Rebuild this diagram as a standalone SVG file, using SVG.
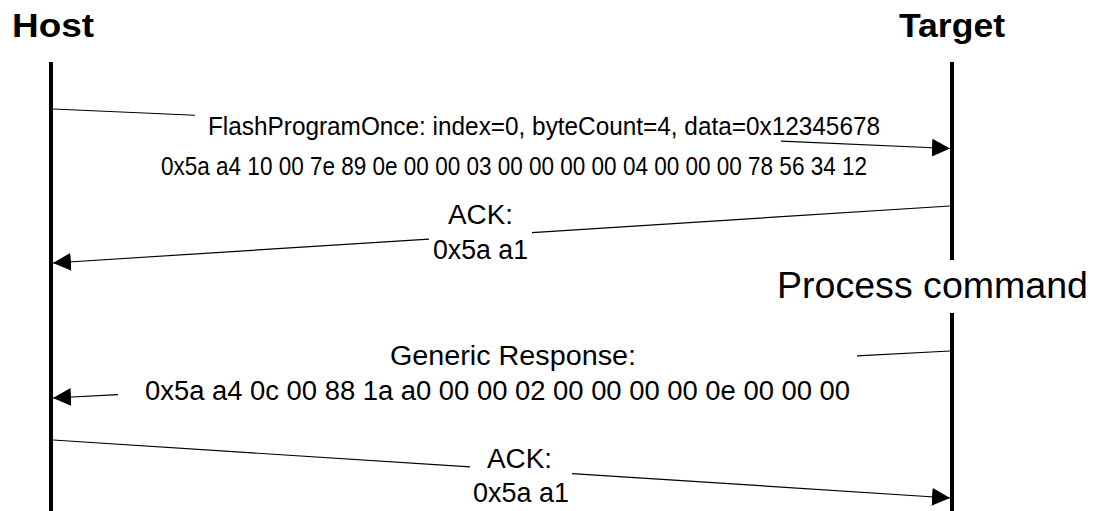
<svg xmlns="http://www.w3.org/2000/svg" width="1093" height="511" viewBox="0 0 1093 511">
  <style>
    .life { stroke: #000; stroke-width: 4; fill: none; }
    .msg { stroke: #000; stroke-width: 1.2; fill: none; }
    .title { font-family: "Liberation Sans", Arial, sans-serif; font-weight: bold; font-size: 34px; fill: #000; }
    .lbl { font-family: "Liberation Sans", Arial, sans-serif; font-size: 27px; fill: #000; }
    .lbl26 { font-family: "Liberation Sans", Arial, sans-serif; font-size: 26px; fill: #000; }
    .big { font-family: "Liberation Sans", Arial, sans-serif; font-size: 36px; fill: #000; }
  </style>
  <defs>
    <marker id="arrow" markerUnits="userSpaceOnUse" markerWidth="18" markerHeight="18" refX="18" refY="9" orient="auto">
      <path d="M0,0 L18,9 L0,18 Z" fill="#000"/>
    </marker>
  </defs>
  <rect width="1093" height="511" fill="#fff"/>

  <g id="host">
    <text class="title" x="53" y="37" text-anchor="middle" textLength="82" lengthAdjust="spacingAndGlyphs">Host</text>
    <line class="life" x1="51" y1="62" x2="51" y2="511"/>
  </g>

  <g id="target">
    <text class="title" x="952" y="37" text-anchor="middle" textLength="106" lengthAdjust="spacingAndGlyphs">Target</text>
    <line class="life" x1="952" y1="62" x2="952" y2="260"/>
    <line class="life" x1="952" y1="313" x2="952" y2="511"/>
  </g>

  <g id="process-command">
    <text class="big" x="777" y="298" textLength="311" lengthAdjust="spacingAndGlyphs">Process command</text>
  </g>

  <g id="connectors">
    <path class="msg" d="M53,109 L195,115.25 M781,141.06 L950,148.5" marker-end="url(#arrow)"/>
    <path class="msg" d="M950,206 L532,232.56 M429,239.1 L53,263" marker-end="url(#arrow)"/>
    <path class="msg" d="M950,351 L857,355.9 M118,394.6 L53,398" marker-end="url(#arrow)"/>
    <path class="msg" d="M53,440 L470,466.96 M572,473.56 L950,498" marker-end="url(#arrow)"/>
  </g>

  <g id="label-flashprogramonce">
    <text class="lbl26" x="208" y="135" textLength="672" lengthAdjust="spacingAndGlyphs">FlashProgramOnce: index=0, byteCount=4, data=0x12345678</text>
    <text class="lbl26" x="161" y="175" textLength="706" lengthAdjust="spacingAndGlyphs">0x5a a4 10 00 7e 89 0e 00 00 03 00 00 00 00 04 00 00 00 78 56 34 12</text>
  </g>

  <g id="label-ack1">
    <text class="lbl" x="448" y="224" textLength="65" lengthAdjust="spacingAndGlyphs">ACK:</text>
    <text class="lbl" x="433" y="259" textLength="95" lengthAdjust="spacingAndGlyphs">0x5a a1</text>
  </g>

  <g id="label-generic-response">
    <text class="lbl" x="390" y="365" textLength="246" lengthAdjust="spacingAndGlyphs">Generic Response:</text>
    <text class="lbl" x="145" y="400" textLength="705" lengthAdjust="spacingAndGlyphs">0x5a a4 0c 00 88 1a a0 00 00 02 00 00 00 00 0e 00 00 00</text>
  </g>

  <g id="label-ack2">
    <text class="lbl" x="487" y="468" textLength="65" lengthAdjust="spacingAndGlyphs">ACK:</text>
    <text class="lbl" x="473" y="502" textLength="96" lengthAdjust="spacingAndGlyphs">0x5a a1</text>
  </g>
</svg>
